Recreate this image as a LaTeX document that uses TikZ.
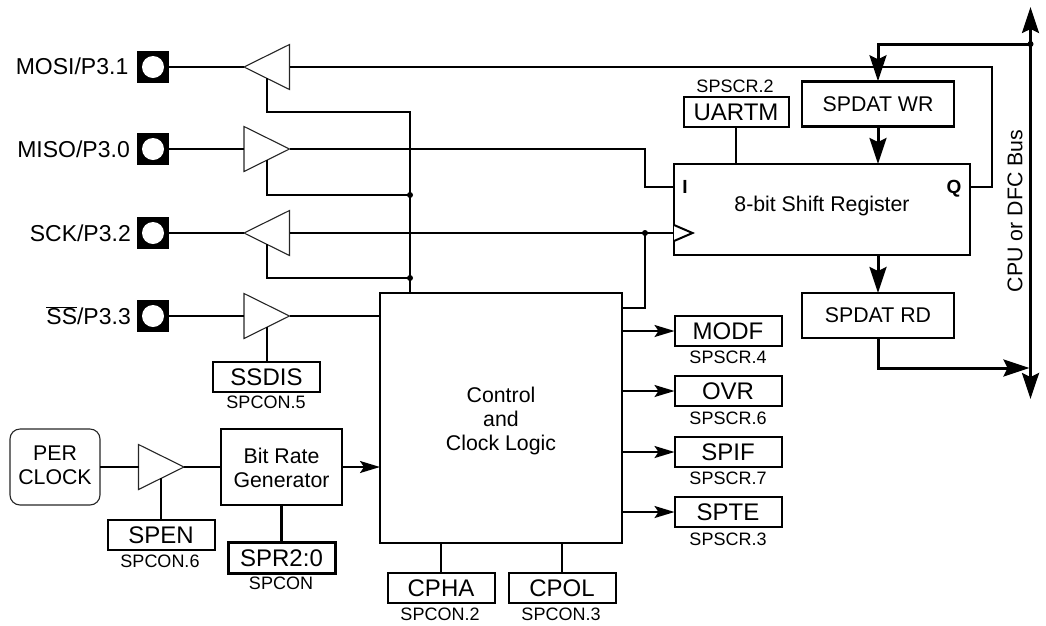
\documentclass[tikz,border=0pt]{standalone}
\usepackage{fontspec}
\setmainfont{Liberation Sans}
\usetikzlibrary{arrows.meta,shapes.geometric,calc}
\newcommand{\fsz}[1]{\fontsize{#1}{#1}\selectfont}
\tikzset{
  x=1pt,y=-1pt,
  wire/.style={line width=2pt,line join=miter,line cap=butt},
  thinarrow/.style={wire,-{Stealth[length=20pt,width=12pt,inset=4pt]}},
  busline/.style={line width=3pt,line join=miter},
  busarrow/.style={busline,-{Stealth[length=26pt,width=17pt,inset=4pt]}},
  reg/.style={draw,line width=2pt,inner sep=0pt,outer sep=0pt,minimum width=107pt,minimum height=30pt,font=\fsz{24},text height=17pt,text depth=0pt},
  sublabel/.style={inner sep=0pt,font=\fsz{18},text height=13pt,text depth=0pt},
  blockb/.style={draw,inner sep=0pt,outer sep=0pt,font=\fontsize{21.3}{24}\selectfont,align=center},
  pinlabel/.style={inner sep=0pt,anchor=east,font=\fsz{23},text height=16.5pt,text depth=0pt},
  pinsq/.style={fill=black,inner sep=0pt,outer sep=0pt,minimum size=32pt},
  pinhole/.style={circle,fill=white,inner sep=0pt,outer sep=0pt,minimum size=22pt},
  buf/.style={draw=black!85,line width=1.1pt,isosceles triangle,isosceles triangle stretches,inner sep=0pt,outer sep=0pt,minimum width=45pt,minimum height=45.5pt,anchor=lower side},
  bufr/.style={buf},
  bufl/.style={buf,shape border rotate=180},
  jdot/.style={circle,fill=black,inner sep=0pt,outer sep=0pt,minimum size=6pt},
  strong/.style={inner sep=0pt,font=\bfseries\fsz{19},text height=13.5pt,text depth=0pt},
  plain/.style={inner sep=0pt,font=\fontsize{21.3}{24.3}\selectfont,align=center}
}
\begin{document}
\begin{tikzpicture}
\useasboundingbox (0,0) rectangle (1046,625);
% pins
\foreach \n/\y in {mosi/67,miso/149,sck/233,ss/316}{
  \node[pinsq] (pin\n) at (153,\y) {};
  \node[pinhole] (hole\n) at (153,\y) {};
}
\node[pinlabel] (lmosi) at (128.5,66.5) {MOSI/P3.1};
\node[pinlabel] (lmiso) at (130,149) {MISO/P3.0};
\node[pinlabel] (lsck) at (131,233) {SCK/P3.2};
\node[pinlabel] (lss) at (131,316) {$\overline{\mbox{SS}}$/P3.3};
% buffers
\node[bufl] (ta) at (289.5,67) {};
\node[bufr] (tb) at (244,149) {};
\node[bufl] (tc) at (289.5,233) {};
\node[bufr] (td) at (244,316) {};
\node[bufr] (te) at (138.5,467) {};
\coordinate (ena) at ($(ta.apex)!.5!(ta.left corner)$);
\coordinate (enb) at ($(tb.apex)!.5!(tb.right corner)$);
\coordinate (enc) at ($(tc.apex)!.5!(tc.left corner)$);
\coordinate (end) at ($(td.apex)!.5!(td.right corner)$);
\coordinate (ene) at ($(te.apex)!.5!(te.right corner)$);
% main blocks
\node[blockb,line width=2pt,minimum width=242pt,minimum height=250pt] (ctrl) at (501,418) {};
\node[plain] (ctrltxt) at (501,421) {Control\\and\\Clock Logic};
\node[blockb,line width=2.7pt,minimum width=296pt,minimum height=91pt] (sr) at (822,209.5) {};
\node[plain] (srtxt) at (822,206) {8-bit Shift Register};
\node[strong] (sri) at (685,187) {I};
\node[strong] (srq) at (954,187) {Q};
\node[blockb,line width=2.7pt,minimum width=152pt,minimum height=45.5pt] (wr) at (878,104) {SPDAT WR};
\node[blockb,line width=2.7pt,minimum width=152pt,minimum height=45pt] (rd) at (878,315.5) {SPDAT RD};
\node[blockb,line width=2pt,minimum width=121pt,minimum height=76pt] (brg) at (281.5,467) {};
\node[plain] (brgtxt) at (281.5,468) {Bit Rate\\Generator};
\node[blockb,draw=black!85,line width=1.1pt,rounded corners=10pt,minimum width=90pt,minimum height=76pt] (per) at (55,467) {};
\node[plain] (pertxt) at (55,465) {PER\\CLOCK};
% registers
\node[reg,minimum width=105pt] (uartm) at (736,112) {UARTM};
\node[sublabel] (luartm) at (735,86) {SPSCR.2};
\node[reg] (ssdis) at (266.5,377) {SSDIS};
\node[sublabel] (lssdis) at (266,401.5) {SPCON.5};
\node[reg] (spen) at (161,535) {SPEN};
\node[sublabel] (lspen) at (160,560.5) {SPCON.6};
\node[reg,line width=3pt,minimum height=31pt] (spr) at (281.5,557.5) {SPR2:0};
\node[sublabel] (lspr) at (281,582.5) {SPCON};
\node[reg] (modf) at (728,331) {MODF};
\node[sublabel] (lmodf) at (728,356.5) {SPSCR.4};
\node[reg] (ovr) at (728,391) {OVR};
\node[sublabel] (lovr) at (728,417.5) {SPSCR.6};
\node[reg] (spif) at (728,452) {SPIF};
\node[sublabel] (lspif) at (728,477.5) {SPSCR.7};
\node[reg] (spte) at (728,512) {SPTE};
\node[sublabel] (lspte) at (728,538.5) {SPSCR.3};
\node[reg] (cpha) at (441,588) {CPHA};
\node[sublabel] (lcpha) at (440,613.5) {SPCON.2};
\node[reg] (cpol) at (562,588) {CPOL};
\node[sublabel] (lcpol) at (561,613.5) {SPCON.3};
\node[inner sep=0pt,rotate=90,font=\fsz{21.3}] (buslbl) at (1015,211) {CPU or DFC Bus};
% routing points
\coordinate (sri0) at (674,187);
\coordinate (srq0) at (970,187);
\coordinate (src0) at (674,233);
\coordinate (qup) at (992,67);
\coordinate (ibend) at (645,149);
\coordinate (ctrlclk) at (622,308);
\coordinate (entop) at (410,112);
\coordinate (busT) at (1030.5,7);
\coordinate (busB) at (1030.5,399);
\coordinate (rdbus) at (1029.5,368);
\node[jdot] (j1) at (410,195) {};
\node[jdot] (j2) at (410,278) {};
\node[jdot] (j3) at (645,233) {};
\node[jdot] (j4) at (1030.5,44) {};
% signal wires
\draw[wire] (pinmosi.east) -- (ta.apex);
\draw[wire] (pinmiso.east) -- (tb.lower side);
\draw[wire] (pinsck.east) -- (tc.apex);
\draw[wire] (pinss.east) -- (td.lower side);
\draw[wire] (ta.lower side) -- (qup) |- (srq0);
\draw[wire] (tb.apex) -- (ibend) |- (sri0);
\draw[wire] (tc.lower side) -- (src0);
\draw[wire] (td.apex) -- (td.apex -| ctrl.west);
\draw[wire] (ctrlclk) -| (j3.center);
\draw[wire] (ena) |- (entop) -- (entop |- ctrl.north);
\draw[wire] (enb) |- (j1.center);
\draw[wire] (enc) |- (j2.center);
\draw[wire] (end) -- (end |- ssdis.north);
\draw[wire] (ene) -- (ene |- spen.north);
\draw[wire] (per.east) -- (te.lower side);
\draw[wire] (te.apex) -- (brg.west);
\draw[thinarrow] (brg.east) -- (ctrl.west |- brg.east);
\draw[line width=3pt] (brg.south) -- (spr.north);
\draw[wire] (uartm.south) -- (uartm.south |- sr.north);
\draw[wire] (cpha.north) -- (cpha.north |- ctrl.south);
\draw[wire] (cpol.north) -- (cpol.north |- ctrl.south);
\draw[thinarrow] (modf.west -| ctrl.east) -- (modf.west);
\draw[thinarrow] (ovr.west -| ctrl.east) -- (ovr.west);
\draw[thinarrow] (spif.west -| ctrl.east) -- (spif.west);
\draw[thinarrow] (spte.west -| ctrl.east) -- (spte.west);
\draw[line width=2pt,line join=miter,fill=white] (674,225) -- (692.5,233) -- (674,241);
% bus
\draw[busline,{Stealth[length=26pt,width=17pt,inset=4pt]}-{Stealth[length=26pt,width=17pt,inset=4pt]}] (busT) -- (busB);
\draw[busarrow] (j4.center) -| (wr.north);
\draw[busarrow] (wr.south) -- (sr.north -| wr.south);
\draw[busarrow] (sr.south -| rd.north) -- (rd.north);
\draw[busarrow] (rd.south) |- (rdbus);
\end{tikzpicture}
\end{document}
